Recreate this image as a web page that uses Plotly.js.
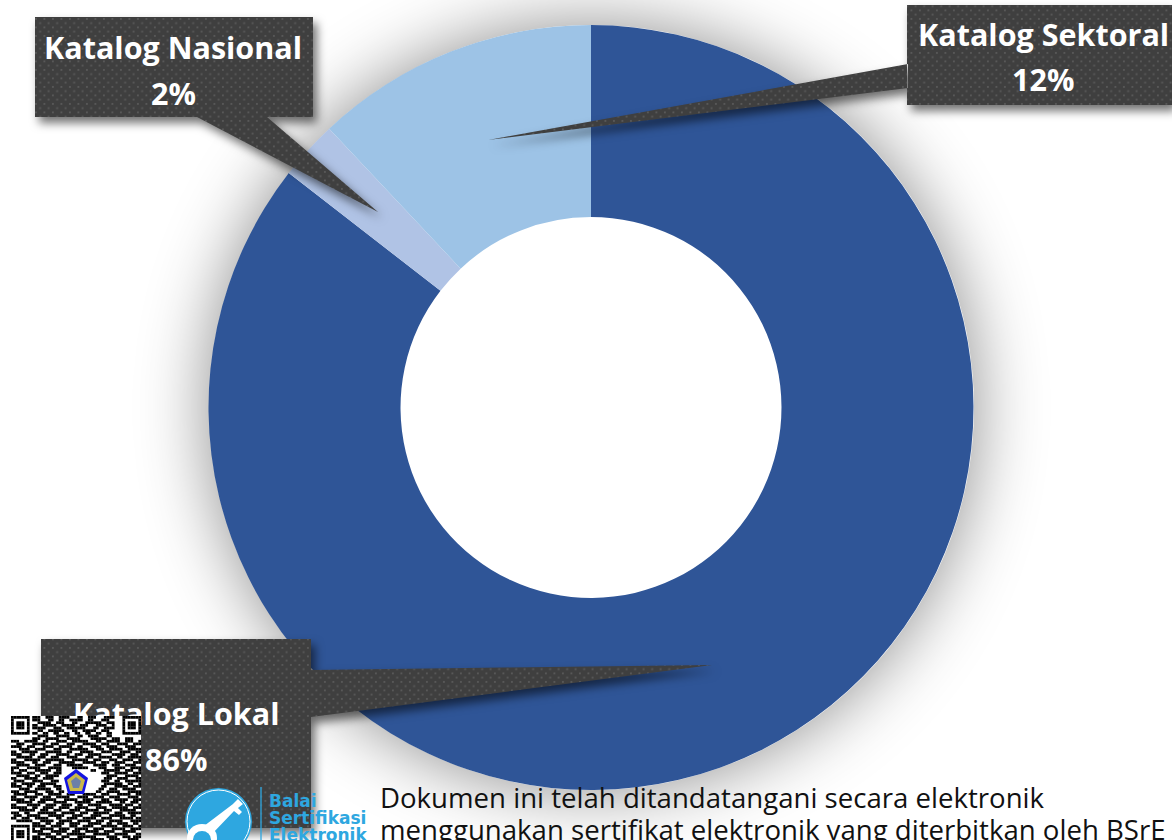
<!DOCTYPE html>
<html>
<head>
<meta charset="utf-8">
<script src="https://cdn.plot.ly/plotly-3.0.1.min.js"></script>
<style>
html,body{margin:0;padding:0;background:#fff;overflow:hidden}
#wrap{position:relative;width:1172px;height:840px;overflow:hidden;background:#fff}
#halo{position:absolute;left:208.5px;top:25px;width:765px;height:765px;border-radius:50%;box-shadow:0 0 70px 0 rgba(0,0,0,0.45)}
#chart{position:absolute;left:0;top:0;width:1172px;height:840px}
#qr{position:absolute;left:0;top:0;pointer-events:none}
</style>
</head>
<body>
<div id="wrap"><div id="halo"></div><div id="chart"></div><svg id="qr" width="1172" height="840"></svg></div>
<script>
// ---- data ----
const categories = ['Katalog Lokal', 'Katalog Nasional', 'Katalog Sektoral'];
const sliceValues = [85.5, 2.5, 12];
const percentLabels = ['86%', '2%', '12%'];
const sliceColors = ['#2F5597', '#B0C3E5', '#9DC3E6'];
const footerLines = ['Dokumen ini telah ditandatangani secara elektronik',
                     'menggunakan sertifikat elektronik yang diterbitkan oleh BSrE'];
const logoLines = ['Balai', 'Sertifikasi', 'Elektronik'];
// callout geometry in pixels: box [x0,y0,x1,y1], pointer [base A, tip, base B], label centre x, label line ys
const calloutBoxes = [[41,639,311,828],[35,17,313,117],[907,5,1172,105]];
const calloutPointers = [[[311,670],[712,665],[311,717]],[[197,117],[378,212],[267,117]],[[908,64],[488,140],[908,88]]];
const labelCentreX = [176,173,1043];
const labelNameY = [713,47,34];
const labelPctY = [759,93,79];
const qrRows = [
'0000000011100111001111000110011100011110000000000',
'0000000011100011001100111110011000111000000000000',
'0000000000111110011100011000111111001110000000000',
'0000000011001111100111110011100011110010000000000',
'0000000011111000111001111111000110011110000000000',
'0000000000110011111100011001111100111000000000000',
'0000000011001100110011001100110011001100000000000',
'0000000000111100011111000110011110001100000000000',
'0000000011100111110001111100001111110011100111000',
'1110011111001100011110011111100011001111100111001',
'0011100011111001110001110001111100111000111100111',
'1111001110001111001111100110001111001111000111100',
'0001111001111000111000111111100011100111110011111',
'1100111111000111111001100011111000111100011110011',
'1111000110011100011111001110011111000011111001110',
'0011111100111001110001111000111001111100110011111',
'1100011111100111111100011111100111000111001111001',
'1111100011001110001111110001111100111001111000111',
'0011111001111000111001111110000111110011100111100',
'1110001111100011111000011111100001110001111001111',
'1001110001111110011000000000001100011111100111001',
'1111001110011100111000000000000000111001111100111',
'0011111001100111110000000000000000001111000111110',
'1100011111001111000000000000000000011100111100011',
'0111100011110001110000000000000000111001100111111',
'1100111110011111100000000000000000011111110011001',
'1111001100111000111000000000000000110001111100111',
'0001111001111110011000000000000001100111001111100',
'1110011111000111001100000000000011001111100011111',
'0111110001110011111001110001111100111000111110011',
'1100011111001110011111000111100111100111100011110',
'1111100110011111100011111001111000111001111100111',
'0011111100111000111110001111110011111100011001110',
'1100001111100111100111100110011111000111110111001',
'1111110011001111001111001111100011110011111100111',
'0001111110011100111000111100111110011100011111100',
'1110011000111111100111110011100111111001110011111',
'0111001111100011111100011110001111000111111001100',
'1100111001111100011001111001111100111100011111011',
'0011111100011111001111100111110011100111110001111',
'1111000111100110011100111100011111001100111100110',
'0000000011111001111000111001111000111111001111001',
'0000000010011111001111001111100111100011111001111',
'0000000011110001111110011100111110011110001111100',
'0000000000111110011001111111000111111001111100011',
'0000000011100111100111000111111100001111001110111',
'0000000011111001111100111110001111100111100011110'
];
const qrLeft = 11, qrTop = 716, qrCell = 2.653;

// ---- helpers: pixel position to paper fraction ----
const W = 1172, H = 840;
const fx = x => x / W, fy = y => 1 - y / H;
const P = (x, y) => fx(x).toFixed(5) + ',' + fy(y).toFixed(5);

// ---- shapes ----
const shapes = [];
calloutBoxes.forEach((b, i) => {
  const p = calloutPointers[i];
  const box = [[b[0],b[1]],[b[2],b[1]],[b[2],b[3]],[b[0],b[3]]];
  const d = 'M' + box.map(q => P(q[0], q[1])).join('L') + 'Z' + 'M' + p.map(q => P(q[0], q[1])).join('L') + 'Z';
  shapes.push({type:'path', xref:'paper', yref:'paper', layer:'above', path:d, fillcolor:'#3F3F3F', line:{width:0}});
});
// certificate logo
shapes.push({type:'circle', xref:'paper', yref:'paper', layer:'above',
  x0:fx(185), x1:fx(252), y0:fy(855), y1:fy(788), fillcolor:'#2EA7E0', line:{width:0}});
shapes.push({type:'circle', xref:'paper', yref:'paper', layer:'above',
  x0:fx(187), x1:fx(250), y0:fy(853), y1:fy(790), fillcolor:'rgba(0,0,0,0)', line:{color:'#ffffff',width:1}});
shapes.push({type:'path', xref:'paper', yref:'paper', layer:'above',
  path:'M'+P(204,826)+'L'+P(233,804)+'L'+P(238,799)+'L'+P(243,804)+'L'+P(238,808)+'L'+P(242,812)+'L'+P(239,815)+'L'+P(234,811)+'L'+P(212,834)+'Z',
  fillcolor:'#ffffff', line:{width:0}});
shapes.push({type:'circle', xref:'paper', yref:'paper', layer:'above',
  x0:fx(187), x1:fx(217), y0:fy(852), y1:fy(824), fillcolor:'#ffffff', line:{width:0}});
shapes.push({type:'circle', xref:'paper', yref:'paper', layer:'above',
  x0:fx(193), x1:fx(211), y0:fy(848), y1:fy(831), fillcolor:'#2EA7E0', line:{width:0}});
shapes.push({type:'line', xref:'paper', yref:'paper', layer:'above',
  x0:fx(261), x1:fx(261), y0:fy(787), y1:fy(840), line:{color:'#2EA7E0', width:1.3}});

// ---- annotations ----
const annotations = [];
categories.forEach((c, i) => {
  annotations.push({xref:'paper', yref:'paper', x:fx(labelCentreX[i]), y:fy(labelNameY[i]), text:'<b>'+c+'</b>',
    showarrow:false, xanchor:'center', yanchor:'middle', font:{family:'Open Sans', size:30.5, color:'#ffffff'}});
  annotations.push({xref:'paper', yref:'paper', x:fx(labelCentreX[i]), y:fy(labelPctY[i]), text:'<b>'+percentLabels[i]+'</b>',
    showarrow:false, xanchor:'center', yanchor:'middle', font:{family:'Open Sans', size:30.5, color:'#ffffff'}});
});
footerLines.forEach((t, i) => {
  annotations.push({xref:'paper', yref:'paper', x:fx(378), y:fy([796.5,829][i]), text:t,
    showarrow:false, xanchor:'left', yanchor:'middle', font:{family:'Open Sans', size:27.6, color:'#111111'}});
});
logoLines.forEach((t, i) => {
  annotations.push({xref:'paper', yref:'paper', x:fx(267), y:fy([801,818,835][i]), text:'<b>'+t+'</b>',
    showarrow:false, xanchor:'left', yanchor:'middle', font:{family:'DejaVu Sans', size:17, color:'#2EA7E0'}});
});

const trace = {
  type:'pie', labels:categories, values:sliceValues, sort:false, direction:'clockwise', rotation:0,
  hole:0.498, marker:{colors:sliceColors, line:{width:0}}, textinfo:'none', hoverinfo:'label+percent',
  domain:{x:[fx(208.5), fx(973.5)], y:[fy(790), fy(25)]}, showlegend:false
};
const layout = {
  width:W, height:H, margin:{l:0,r:0,t:0,b:0,pad:0}, paper_bgcolor:'rgba(0,0,0,0)', plot_bgcolor:'rgba(0,0,0,0)',
  showlegend:false, shapes, annotations
};

Plotly.newPlot('chart', [trace], layout, {displayModeBar:false, responsive:false}).then(() => {
  const gd = document.getElementById('chart');
  const svg = gd.querySelector('svg.main-svg');
  // dotted fill on callouts
  const NS = 'http://www.w3.org/2000/svg';
  const defs = document.createElementNS(NS, 'defs');
  const pat = document.createElementNS(NS, 'pattern');
  pat.setAttribute('id','dots'); pat.setAttribute('width','8.5'); pat.setAttribute('height','8.5');
  pat.setAttribute('patternUnits','userSpaceOnUse');
  pat.innerHTML = '<rect width="8.5" height="8.5" fill="#3F3F3F"/><rect x="1" y="1" width="1.8" height="1.8" fill="#5A5A5A"/><rect x="5.25" y="5.25" width="1.8" height="1.8" fill="#5A5A5A"/>';
  defs.appendChild(pat); svg.appendChild(defs);
  gd.querySelectorAll('.shapelayer path').forEach(p => {
    const f = p.style.fill || '';
    if (f.indexOf('63, 63, 63') >= 0) {
      p.style.fill = 'url(#dots)';
      p.style.filter = 'drop-shadow(4px 6px 5px rgba(0,0,0,0.55))';
    }
  });
  // QR overlay
  const qr = document.getElementById('qr');
  const size = qrRows[0].length;
  const grid = qrRows.map(r => r.split('').map(Number));
  const finder = (r0, c0) => {
    for (let r = -1; r <= 7; r++) for (let c = -1; c <= 7; c++) {
      const R = r0 + r, C = c0 + c;
      if (R < 0 || R >= grid.length || C < 0 || C >= size) continue;
      const on = r>=0 && r<=6 && c>=0 && c<=6 && (r===0||r===6||c===0||c===6||(r>=2&&r<=4&&c>=2&&c<=4));
      grid[R][C] = on ? 1 : 0;
    }
  };
  finder(0,0); finder(0,size-7); finder(41,0);
  let out = '<rect x="'+qrLeft+'" y="'+qrTop+'" width="'+(size*qrCell)+'" height="'+(840-qrTop)+'" fill="#fff"/>';
  grid.forEach((row, r) => row.forEach((v, c) => {
    if (v) out += '<rect x="'+(qrLeft+c*qrCell).toFixed(2)+'" y="'+(qrTop+r*qrCell).toFixed(2)+'" width="'+(qrCell+0.1)+'" height="'+(qrCell+0.1)+'" fill="#000"/>';
  }));
  // emblem
  out += '<polygon points="76,769 88,778 84,794 68,794 64,778" fill="#1414E0"/>';
  out += '<polygon points="76,773 85,780 82,791 70,791 67,780" fill="#C9B84A"/>';
  out += '<polygon points="76,777 81,781 79,788 73,788 71,781" fill="#6C7FA8"/>';
  qr.innerHTML = out;
});
</script>
</body>
</html>
